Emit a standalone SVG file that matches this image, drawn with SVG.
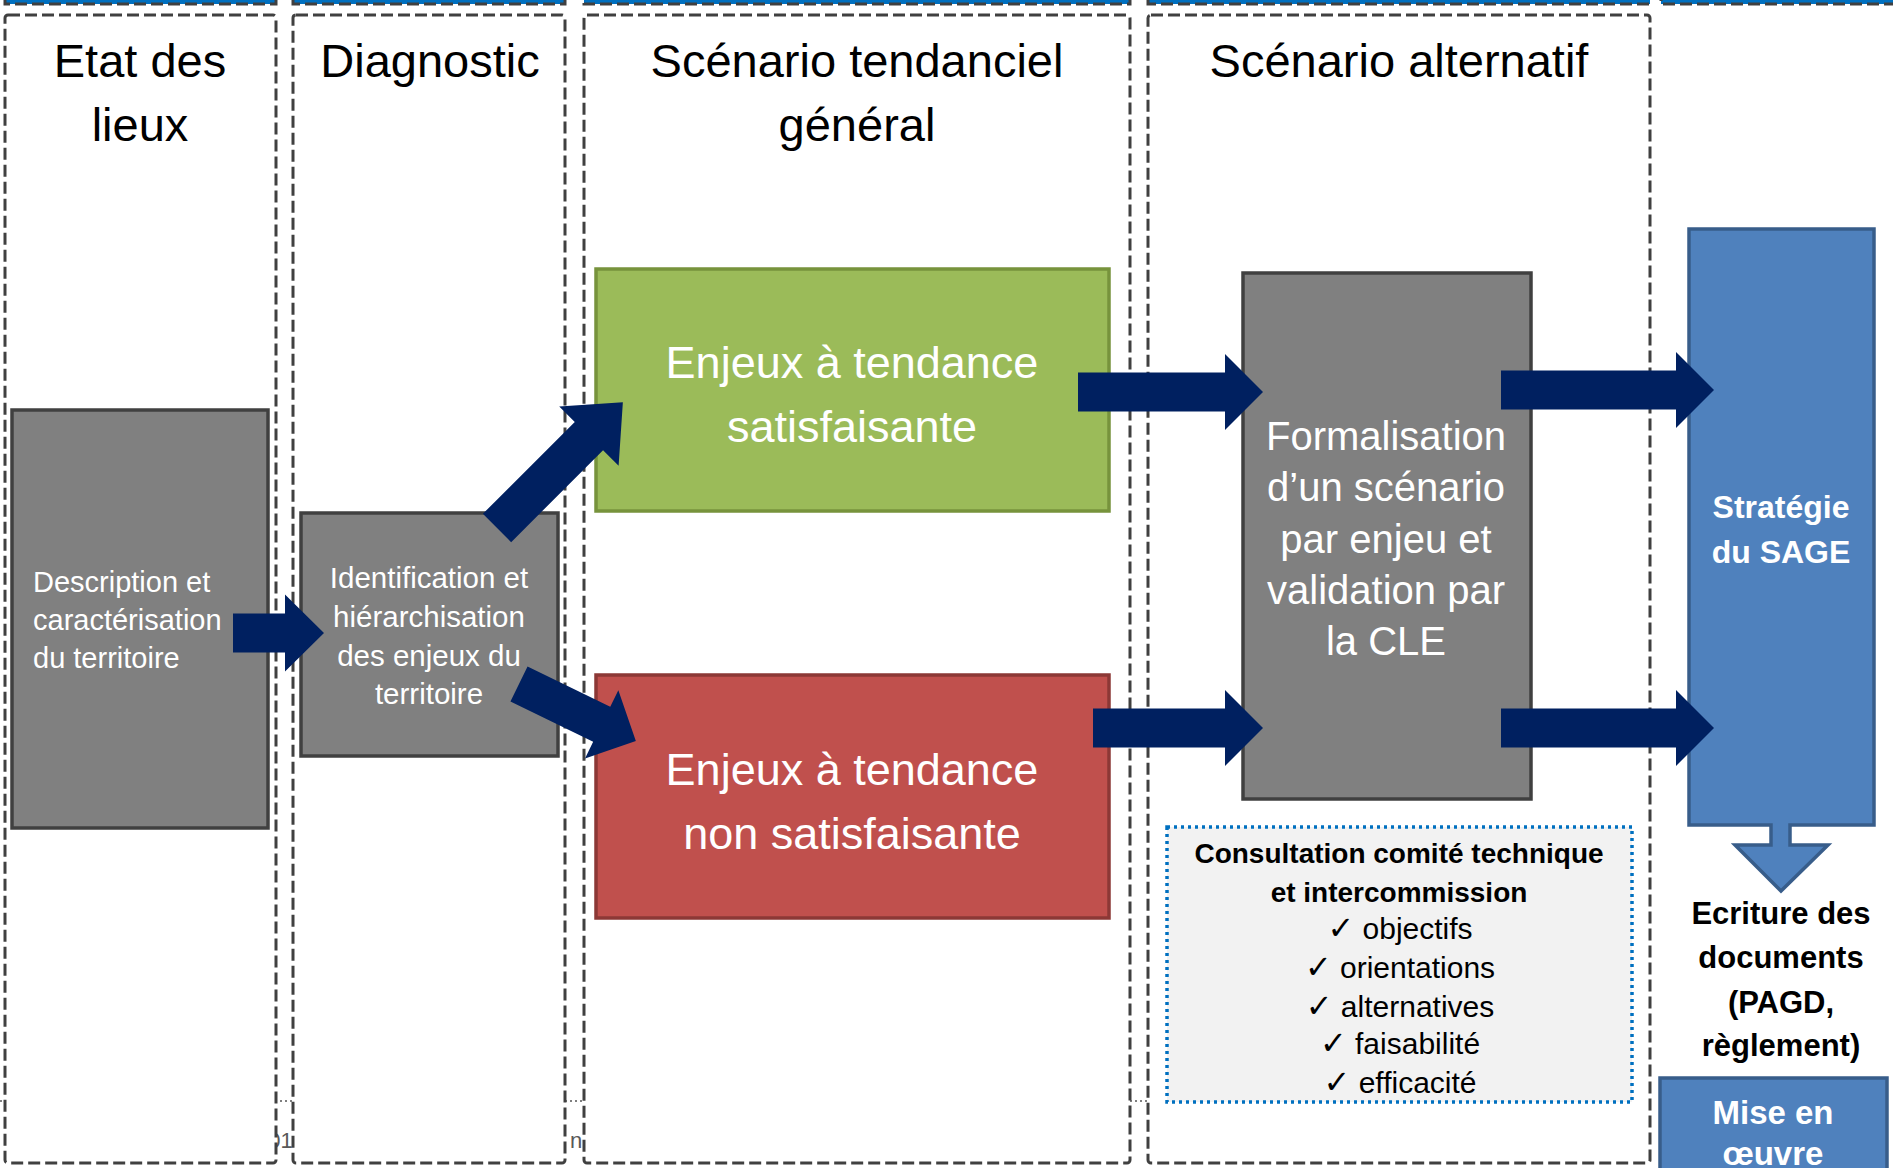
<svg xmlns="http://www.w3.org/2000/svg" width="1893" height="1168" viewBox="0 0 1893 1168">
<style>
text{font-family:"Liberation Sans",Arial,sans-serif}
.col{fill:#fff;stroke:#404040;stroke-width:3;stroke-dasharray:12 5}
.band{fill:#0070C0;stroke:#404040;stroke-width:3;stroke-dasharray:12 5}
.hdr{font-size:47px;fill:#000;text-anchor:middle}
.gray{fill:#808080;stroke:#404040;stroke-width:3.5}
.wt{fill:#fff}
.arr{fill:#002060}
.big{font-size:45px;fill:#fff;text-anchor:middle}
.chk{font-family:"DejaVu Sans",sans-serif;font-size:32px}
</style>
<rect width="1893" height="1168" fill="#fff"/>
<!-- background fragments -->
<g id="background">
<line x1="0" y1="1101" x2="1170" y2="1101" stroke="#7f7f7f" stroke-width="2" stroke-dasharray="2 3"/>
<text x="256" y="1148" font-size="22" fill="#595959">201</text>
<text x="570" y="1148" font-size="22" fill="#595959">n</text>
</g>
<g id="bands">
<rect class="band" x="5" y="-20" width="271" height="24"/>
<rect class="band" x="293" y="-20" width="272" height="24"/>
<rect class="band" x="584" y="-20" width="546" height="24"/>
<rect class="band" x="1148" y="-20" width="502" height="24"/>
<rect class="band" x="1661" y="-20" width="250" height="24"/>
</g>
<g id="col-etat"><rect class="col" x="5" y="15" width="271" height="1148" rx="3"/><text class="hdr" x="140" y="77">Etat des</text><text class="hdr" x="140" y="141">lieux</text></g>
<g id="col-diagnostic"><rect class="col" x="293" y="15" width="272" height="1148" rx="3"/><text class="hdr" x="430" y="77">Diagnostic</text></g>
<g id="col-tendanciel"><rect class="col" x="584" y="15" width="546" height="1148" rx="3"/><text class="hdr" x="857" y="77">Scénario tendanciel</text><text class="hdr" x="857" y="141">général</text></g>
<g id="col-alternatif"><rect class="col" x="1148" y="15" width="502" height="1148" rx="3"/><text class="hdr" x="1399" y="77">Scénario alternatif</text></g>

<g id="node-description">
<rect class="gray" x="12" y="410" width="256" height="418"/>
<text class="wt" font-size="29" x="33" y="592">Description et</text>
<text class="wt" font-size="29" x="33" y="630">caractérisation</text>
<text class="wt" font-size="29" x="33" y="668">du territoire</text>
</g>
<g id="node-identification">
<rect class="gray" x="301" y="513" width="257" height="243"/>
<g class="wt" font-size="29.5" text-anchor="middle">
<text x="429" y="588">Identification et</text>
<text x="429" y="627">hiérarchisation</text>
<text x="429" y="666">des enjeux du</text>
<text x="429" y="704">territoire</text>
</g>
</g>
<g id="node-satisfaisante">
<rect x="596" y="269" width="513" height="242" fill="#9BBB59" stroke="#77933C" stroke-width="3.5"/>
<text class="big" x="852" y="378">Enjeux à tendance</text>
<text class="big" x="852" y="442">satisfaisante</text>
</g>
<g id="node-non-satisfaisante">
<rect x="596" y="675" width="513" height="243" fill="#C0504D" stroke="#8C3836" stroke-width="3.5"/>
<text class="big" x="852" y="785">Enjeux à tendance</text>
<text class="big" x="852" y="849">non satisfaisante</text>
</g>
<g id="node-formalisation">
<rect class="gray" x="1243" y="273" width="288" height="526"/>
<g class="wt" font-size="40" text-anchor="middle">
<text x="1386" y="450">Formalisation</text>
<text x="1386" y="501">d’un scénario</text>
<text x="1386" y="553">par enjeu et</text>
<text x="1386" y="604">validation par</text>
<text x="1386" y="655">la CLE</text>
</g>
</g>
<g id="node-strategie">
<polygon points="1689,229 1874,229 1874,825 1790,825 1790,845 1828,845 1781,891 1735,845 1771,845 1771,825 1689,825" fill="#4F81BD" stroke="#385D8A" stroke-width="3.5" stroke-linejoin="miter"/>
<text x="1781" y="518" font-size="32" font-weight="bold" fill="#fff" text-anchor="middle">Stratégie</text>
<text x="1781" y="563" font-size="32" font-weight="bold" fill="#fff" text-anchor="middle">du SAGE</text>
</g>
<g id="node-ecriture" font-size="31" font-weight="bold" text-anchor="middle">
<text x="1781" y="924">Ecriture des</text>
<text x="1781" y="968">documents</text>
<text x="1781" y="1013">(PAGD,</text>
<text x="1781" y="1056">règlement)</text>
</g>
<g id="node-mise-en-oeuvre">
<rect x="1660" y="1078" width="227" height="110" fill="#4F81BD" stroke="#385D8A" stroke-width="3.5"/>
<text x="1773" y="1124" font-size="33" font-weight="bold" fill="#fff" text-anchor="middle">Mise en</text>
<text x="1773" y="1165" font-size="33" font-weight="bold" fill="#fff" text-anchor="middle">œuvre</text>
</g>
<g id="node-consultation">
<rect x="1167" y="827" width="465" height="275" fill="#F2F2F2" stroke="#0070C0" stroke-width="3.5" stroke-dasharray="3 4"/>
<g text-anchor="middle" fill="#000">
<text x="1399" y="863" font-size="28" font-weight="bold">Consultation comité technique</text>
<text x="1399" y="902" font-size="28" font-weight="bold">et intercommission</text>
<text x="1400" y="939" font-size="30"><tspan class="chk">✓</tspan> objectifs</text>
<text x="1400" y="978" font-size="30"><tspan class="chk">✓</tspan> orientations</text>
<text x="1400" y="1017" font-size="30"><tspan class="chk">✓</tspan> alternatives</text>
<text x="1400" y="1054" font-size="30"><tspan class="chk">✓</tspan> faisabilité</text>
<text x="1400" y="1093" font-size="30"><tspan class="chk">✓</tspan> efficacité</text>
</g>
</g>
<g id="connectors" class="arr">
<polygon points="233,613.5 285,613.5 285,594.5 324,633 285,671.5 285,652.5 233,652.5"/>
<polygon transform="translate(497,528) rotate(-45)" points="0,-20 130,-20 130,-42 178,0 130,42 130,20 0,20"/>
<polygon transform="translate(519,684) rotate(26)" points="0,-19.5 92,-19.5 92,-38 130,0 92,38 92,19.5 0,19.5"/>
<polygon points="1078,372.5 1225,372.5 1225,354 1263,392 1225,430 1225,411.5 1078,411.5"/>
<polygon points="1093,708.5 1225,708.5 1225,690 1263,728 1225,766 1225,747.5 1093,747.5"/>
<polygon points="1501,370.5 1676,370.5 1676,352 1714,390 1676,428 1676,409.5 1501,409.5"/>
<polygon points="1501,708.5 1676,708.5 1676,690 1714,728 1676,766 1676,747.5 1501,747.5"/>
</g>
</svg>
